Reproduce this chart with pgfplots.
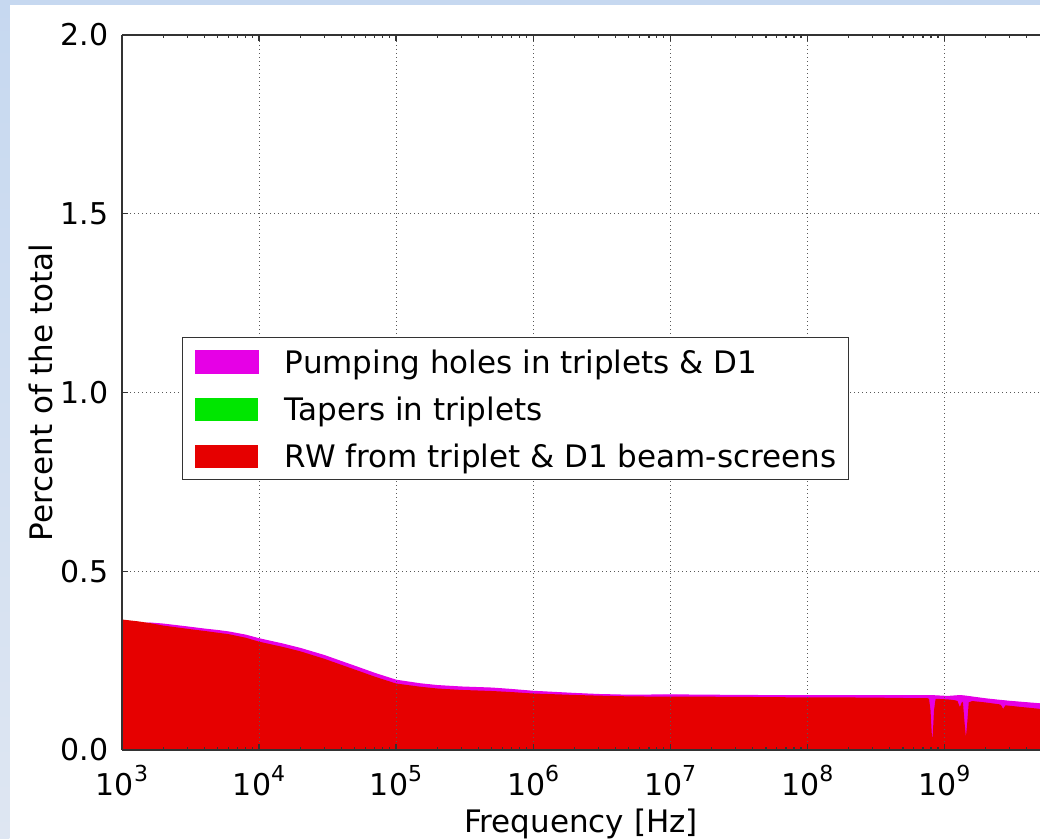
\documentclass[border=0pt]{standalone}
\usepackage{pgfplots}
\pgfplotsset{compat=1.18}
\usepackage{fontspec}
\setmainfont{DejaVu Sans}
\definecolor{mag}{RGB}{230,0,230}
\definecolor{grn}{RGB}{0,230,0}
\definecolor{rd}{RGB}{230,0,0}
\definecolor{bgtop}{RGB}{198,216,240}
\definecolor{bgbot}{RGB}{222,230,242}
\newcommand{\tp}[1]{10\raisebox{0.47em}{\fontsize{11}{11}\selectfont #1}}
\begin{document}
\begin{tikzpicture}
\path[use as bounding box] (-61pt,-44.5pt) rectangle (459pt,375pt);
\fill[bgtop] (-61pt,372.5pt) rectangle (459pt,375pt);
\shade[top color=bgtop, bottom color=bgbot] (-61pt,-44.5pt) rectangle (-56.25pt,375pt);
\begin{axis}[
  at={(0pt,0pt)}, anchor=south west,
  scale only axis, width=459pt, height=357.5pt,
  xmode=log, xmin=1000, xmax=5e9, ymin=0, ymax=2,
  axis y line*=left,
  axis on top,
  axis line style={line width=0.7pt, black!80},
  tick style={line width=0.6pt, black!80},
  tick align=inside,
  major tick length=3pt, minor tick length=1.7pt,
  xtick={1e3,1e4,1e5,1e6,1e7,1e8,1e9},
  xticklabels={\tp{3},\tp{4},\tp{5},\tp{6},\tp{7},\tp{8},\tp{9}},
  minor xtick={2e3,3e3,4e3,5e3,6e3,7e3,8e3,9e3,
               2e4,3e4,4e4,5e4,6e4,7e4,8e4,9e4,
               2e5,3e5,4e5,5e5,6e5,7e5,8e5,9e5,
               2e6,3e6,4e6,5e6,6e6,7e6,8e6,9e6,
               2e7,3e7,4e7,5e7,6e7,7e7,8e7,9e7,
               2e8,3e8,4e8,5e8,6e8,7e8,8e8,9e8,
               2e9,3e9,4e9},
  ytick={0,0.5,1,1.5,2},
  /pgf/number format/assume math mode=true,
  yticklabel style={/pgf/number format/fixed, /pgf/number format/fixed zerofill, /pgf/number format/precision=1,
    anchor=east, inner sep=0pt, xshift=-6.5pt},
  ticklabel style={font=\fontsize{15}{18}\selectfont},
  xticklabel style={anchor=base, inner sep=0pt, yshift=-22.8pt},
  grid=major,
  major grid style={dash pattern=on 0.5pt off 1.5pt, line width=0.35pt, black!65},
  xlabel={Frequency [Hz]}, ylabel={Percent of the total},
  label style={font=\fontsize{15.5}{18}\selectfont},
  xlabel style={at={(axis description cs:0.5,-0.1147)}, anchor=base, inner sep=0pt},
  ylabel style={at={(axis description cs:-0.0752,0.5)}, anchor=base, inner sep=0pt},
  legend style={at={(axis description cs:0.0654,0.5776)}, anchor=north west,
    draw=black!80, line width=0.6pt, fill=white, inner xsep=6pt, inner ysep=6pt,
    row sep=12pt, column sep=13pt, font=\fontsize{15.5}{18}\selectfont,
    cells={anchor=base west},
    nodes={inner sep=0pt, text height=11pt, text depth=0pt}},
  legend image code/.code={\fill[#1] (0pt,0pt) rectangle (31.5pt,11.5pt);},
]
% total (pumping holes stacked on top)
\addplot[fill=mag, draw=mag, line width=0.6pt] table {
x y
1000 0.345
1300 0.353
1600 0.355
2000 0.352
3000 0.344
4000 0.338
5000 0.334
6000 0.330
8000 0.321
10000 0.311
15000 0.296
20000 0.284
30000 0.264
40000 0.247
50000 0.234
70000 0.214
100000 0.195
150000 0.185
200000 0.180
300000 0.176
500000 0.173
700000 0.169
1e6 0.164
2e6 0.158
3e6 0.155
5e6 0.153
1e7 0.154
2e7 0.153
5e7 0.152
1e8 0.152
2e8 0.152
4e8 0.152
6e8 0.152
8e8 0.152
9e8 0.151
1e9 0.150
1.1e9 0.150
1.2e9 0.151
1.3e9 0.152
1.4e9 0.151
1.6e9 0.148
2e9 0.143
2.5e9 0.139
3e9 0.136
4e9 0.132
5e9 0.129
} \closedcycle;
\addlegendentry{Pumping holes in triplets \& D1}
\addlegendimage{fill=grn, draw=none}
\addlegendentry{Tapers in triplets}
% RW from beam-screens
\addplot[fill=rd, draw=none] table {
x y
1000 0.365
1300 0.360
1600 0.355
2000 0.348
3000 0.339
4000 0.333
5000 0.328
6000 0.324
8000 0.314
10000 0.303
15000 0.288
20000 0.276
30000 0.255
40000 0.238
50000 0.225
70000 0.205
100000 0.186
150000 0.177
200000 0.172
300000 0.168
500000 0.165
700000 0.162
1e6 0.158
2e6 0.154
3e6 0.152
5e6 0.150
1e7 0.149
2e7 0.149
5e7 0.148
1e8 0.147
2e8 0.147
4e8 0.146
6e8 0.145
7.55e8 0.145
7.75e8 0.143
7.95e8 0.110
8.1e8 0.050
8.18e8 0.028
8.27e8 0.050
8.42e8 0.110
8.65e8 0.143
9e8 0.143
1e9 0.142
1.1e9 0.141
1.2e9 0.139
1.25e9 0.137
1.30e9 0.120
1.35e9 0.135
1.37e9 0.133
1.405e9 0.080
1.44e9 0.036
1.475e9 0.080
1.51e9 0.133
1.6e9 0.137
2e9 0.133
2.5e9 0.128
2.59e9 0.126
2.69e9 0.115
2.8e9 0.125
3.5e9 0.121
5e9 0.115
} \closedcycle;
\addlegendentry{RW from triplet \& D1 beam-screens}
\end{axis}
\end{tikzpicture}
\end{document}
